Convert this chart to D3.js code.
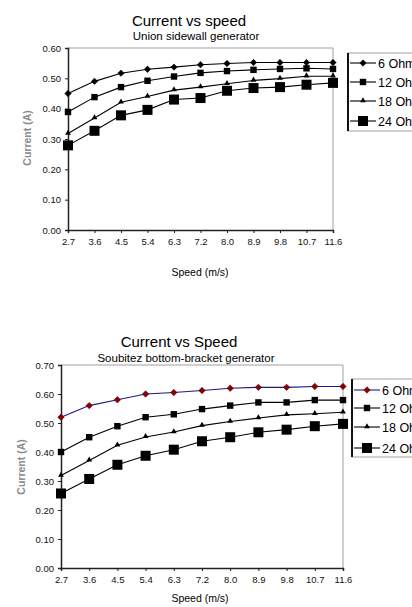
<!DOCTYPE html>
<html>
<head>
<meta charset="utf-8">
<script src="https://cdn.jsdelivr.net/npm/d3@7"></script>
<style>
  body { margin: 0; background: #fff; }
  svg { font-family: "Liberation Sans", Arial, sans-serif; }
</style>
</head>
<body>
<svg id="chart" width="412" height="607"></svg>
<script>
"use strict";
// speed categories (m/s)
var speeds = ["2.7", "3.6", "4.5", "5.4", "6.3", "7.2", "8.0", "8.9", "9.8", "10.7", "11.6"];
var seriesNames = ["6 Ohm", "12 Ohm", "18 Ohm", "24 Ohm"];

// Union sidewall generator
var union6 = [0.45, 0.49, 0.517, 0.53, 0.537, 0.545, 0.549, 0.552, 0.552, 0.552, 0.552];
var union12 = [0.389, 0.438, 0.471, 0.492, 0.506, 0.518, 0.524, 0.528, 0.531, 0.533, 0.531];
var union18 = [0.318, 0.369, 0.421, 0.44, 0.461, 0.471, 0.482, 0.493, 0.499, 0.507, 0.507];
var union24 = [0.279, 0.327, 0.378, 0.396, 0.43, 0.435, 0.459, 0.468, 0.471, 0.479, 0.485];
var unionTicks = [0, 0.1, 0.2, 0.3, 0.4, 0.5, 0.6];

// Soubitez bottom-bracket generator
var soub6 = [0.52, 0.56, 0.58, 0.6, 0.605, 0.612, 0.62, 0.623, 0.623, 0.626, 0.626];
var soub12 = [0.40, 0.451, 0.489, 0.52, 0.53, 0.548, 0.56, 0.571, 0.571, 0.579, 0.579];
var soub18 = [0.319, 0.371, 0.423, 0.452, 0.469, 0.491, 0.505, 0.517, 0.528, 0.532, 0.537];
var soub24 = [0.257, 0.307, 0.356, 0.387, 0.408, 0.437, 0.451, 0.468, 0.477, 0.489, 0.497];
var soubTicks = [0, 0.1, 0.2, 0.3, 0.4, 0.5, 0.6, 0.7];

var svg = d3.select("#chart");

function drawMarker(g, type, x, y, fill, stroke) {
	if (type == "diamond") {
		g.append("path").attr("d", d3.symbol().type(d3.symbolDiamond2).size(26)())
			.attr("transform", "translate(" + x + "," + y + ")")
			.attr("fill", fill).attr("stroke", stroke).attr("stroke-width", 0.6);
	} else if (type == "square") {
		g.append("rect").attr("x", x - 3.2).attr("y", y - 3.2).attr("width", 6.4).attr("height", 6.4)
			.attr("fill", fill);
	} else if (type == "triangle") {
		g.append("path").attr("d", d3.symbol().type(d3.symbolTriangle2).size(24)())
			.attr("transform", "translate(" + x + "," + (y - 0.5) + ")")
			.attr("fill", fill);
	} else if (type == "bigsquare") {
		g.append("rect").attr("x", x - 5).attr("y", y - 5).attr("width", 10).attr("height", 10)
			.attr("fill", fill);
	}
}

function drawChart(cfg) {
	var g = svg.append("g");
	var x = d3.scalePoint().domain(speeds).range([cfg.left, cfg.right]);
	var y = d3.scaleLinear().domain([0, cfg.ymax]).range([cfg.bottom, cfg.top]);

	//titles
	g.append("text").attr("x", cfg.titleX).attr("y", cfg.titleY).attr("text-anchor", "middle")
		.style("font-size", "15px").text(cfg.title);
	g.append("text").attr("x", cfg.subX).attr("y", cfg.subY).attr("text-anchor", "middle")
		.style("font-size", "11.5px").text(cfg.subtitle);

	//plot area border, grey top & right
	g.append("path")
		.attr("d", "M" + cfg.left + "," + cfg.top + "H" + cfg.right + "V" + cfg.bottom)
		.attr("fill", "none").attr("stroke", "#a0a0a0").attr("stroke-width", 1);

	var yAxis = g.append("g").attr("transform", "translate(" + cfg.left + ",0)")
		.call(d3.axisLeft(y).tickValues(cfg.ticks).tickFormat(d3.format(".2f")).tickSize(3).tickPadding(4));
	var xAxis = g.append("g").attr("transform", "translate(0," + cfg.bottom + ")")
		.call(d3.axisBottom(x).tickSize(3).tickPadding(5));
	[yAxis, xAxis].forEach(function(a) {
		a.select(".domain").attr("stroke", "#222").attr("stroke-width", 1.5);
		a.selectAll(".tick line").attr("stroke", "#222");
		a.selectAll("text").style("font-size", "9.5px").attr("fill", "#111")
			.style("font-family", "'Liberation Sans', Arial, sans-serif");
	});

	g.append("text").attr("x", cfg.xlabX).attr("y", cfg.xlabY).attr("text-anchor", "middle")
		.style("font-size", "10.5px").text("Speed (m/s)");
	g.append("text").attr("transform", "translate(" + cfg.ylabX + "," + cfg.ylabY + ") rotate(-90)")
		.attr("text-anchor", "middle").style("font-size", "10.5px").style("font-weight", "bold")
		.attr("fill", "#8a8a8a").text("Current (A)");

	var line = d3.line().x(function(d, i) { return x(speeds[i]); }).y(function(d) { return y(d); });
	cfg.series.forEach(function(s) {
		g.append("path").datum(s.values).attr("d", line)
			.attr("fill", "none").attr("stroke", s.lineColor).attr("stroke-width", 1.1);
		s.values.forEach(function(v, i) {
			drawMarker(g, s.marker, x(speeds[i]), y(v), s.fill, s.stroke);
		});
	});

	//legend (runs past the right edge of the page, as in the original)
	var lg = g.append("g");
	lg.append("rect").attr("x", cfg.legX).attr("y", cfg.legY).attr("width", 90).attr("height", cfg.legH)
		.attr("fill", "#fff").attr("stroke", "#a0a0a0");
	lg.append("line").attr("x1", cfg.legX).attr("x2", cfg.legX).attr("y1", cfg.legY).attr("y2", cfg.legY + cfg.legH)
		.attr("stroke", "#111").attr("stroke-width", 2);
	cfg.series.forEach(function(s, i) {
		var ly = cfg.legY + cfg.legRows[i];
		lg.append("line").attr("x1", cfg.legX + 2).attr("x2", cfg.legX + 28).attr("y1", ly).attr("y2", ly)
			.attr("stroke", s.lineColor).attr("stroke-width", 1.1);
		drawMarker(lg, s.marker, cfg.legX + 15, ly, s.fill, s.stroke);
		lg.append("text").attr("x", cfg.legX + 30).attr("y", ly + 4.5).style("font-size", "12.5px")
			.text(seriesNames[i]);
	});
}

drawChart({
	left: 68, right: 333, top: 48, bottom: 230, ymax: 0.6, ticks: unionTicks,
	title: "Current vs speed", titleX: 189, titleY: 26,
	subtitle: "Union  sidewall generator", subX: 196, subY: 40,
	xlabX: 200, xlabY: 276, ylabX: 31, ylabY: 138,
	legX: 348, legY: 53, legH: 78, legRows: [10, 29, 48, 68],
	series: [
		{ values: union6, marker: "diamond", fill: "#000", stroke: "#000", lineColor: "#000" },
		{ values: union12, marker: "square", fill: "#000", stroke: "#000", lineColor: "#000" },
		{ values: union18, marker: "triangle", fill: "#000", stroke: "#000", lineColor: "#000" },
		{ values: union24, marker: "bigsquare", fill: "#000", stroke: "#000", lineColor: "#000" }
	]
});

drawChart({
	left: 61, right: 343, top: 365, bottom: 568, ymax: 0.7, ticks: soubTicks,
	title: "Current vs Speed", titleX: 179, titleY: 347,
	subtitle: "Soubitez bottom-bracket generator", subX: 186, subY: 362,
	xlabX: 200, xlabY: 602, ylabX: 25, ylabY: 467,
	legX: 352, legY: 379, legH: 78, legRows: [11, 29, 48, 69],
	series: [
		{ values: soub6, marker: "diamond", fill: "#8b0000", stroke: "#500", lineColor: "#1a1a8c" },
		{ values: soub12, marker: "square", fill: "#000", stroke: "#000", lineColor: "#000" },
		{ values: soub18, marker: "triangle", fill: "#000", stroke: "#000", lineColor: "#000" },
		{ values: soub24, marker: "bigsquare", fill: "#000", stroke: "#000", lineColor: "#000" }
	]
});
</script>
</body>
</html>
